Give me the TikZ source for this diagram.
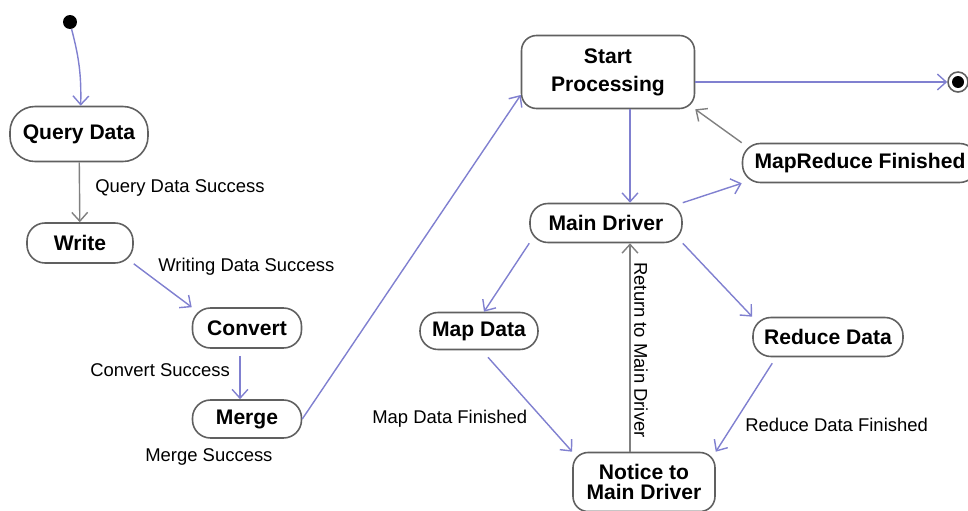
\documentclass[tikz,border=0pt]{standalone}
\usepackage{fontspec}
\setmainfont{Liberation Sans}
\usetikzlibrary{arrows.meta}
\definecolor{flow}{RGB}{128,128,208}
\definecolor{back}{RGB}{128,128,128}
\definecolor{rim}{RGB}{96,96,96}

\begin{document}
\begin{tikzpicture}[
  x=0.02cm, y=-0.02cm,
  state/.style={draw=rim, line width=0.9pt, rounded corners=0.36cm, fill=white,
    align=center, inner sep=0pt, font=\fontsize{12}{16}\selectfont\bfseries},
  lbl/.style={anchor=west, inner sep=0pt, font=\fontsize{10.5}{12}\selectfont},
  >={Straight Barb[length=5pt,width=9pt]},
  flowline/.style={->, draw=flow, line width=0.8pt},
  backline/.style={->, draw=back, line width=0.8pt},
]
  \useasboundingbox (0,0) rectangle (968,511);

  % start and end points
  \node[circle, fill=black, inner sep=0pt, minimum size=0.28cm] (init) at (70,22) {};
  \node[circle, draw=rim, line width=0.9pt, fill=white, inner sep=0pt,
    minimum size=0.4cm] (fin) at (958,82) {};
  \fill[black] (fin.center) circle (0.12cm);

  % left column
  \node[state, minimum width=2.76cm, minimum height=1.1cm, rounded corners=0.5cm] (query) at (79,134) {Query Data};
  \node[state, minimum width=2.12cm, minimum height=0.8cm] (write) at (80,243) {Write};
  \node[state, minimum width=2.18cm, minimum height=0.8cm] (convert) at (247,328) {Convert};
  \node[state, minimum width=2.18cm, minimum height=0.76cm] (merge) at (247,419) {Merge};

  % right part
  \node[state, minimum width=3.46cm, minimum height=1.46cm, rounded corners=0.3cm] (start) at (608,72) {Start\\Processing};
  \node[state, minimum width=3.04cm, minimum height=0.78cm] (main) at (606,223) {Main Driver};
  \node[state, minimum width=4.7cm, minimum height=0.78cm] (mr) at (860,163) {MapReduce Finished};
  \node[state, minimum width=2.36cm, minimum height=0.74cm] (map) at (479,331) {Map Data};
  \node[state, minimum width=3.0cm, minimum height=0.78cm] (reduce) at (828,337) {Reduce Data};
  \node[state, minimum width=2.84cm, minimum height=1.18cm, rounded corners=0.3cm,
    font=\fontsize{12}{11.5}\selectfont\bfseries] (notice) at (644,482) {Notice to\\Main Driver};

  \coordinate (cv) at (240,0);
  \coordinate (ret) at (630,0);

  % transitions
  \draw[flowline] (init) to[bend left=8] (query);
  \draw[backline] (query) -- (write);
  \draw[flowline] (write.south east) -- (convert.north west);
  \draw[flowline] ([yshift=-0.14cm]convert.south -| cv) -- (merge.north -| cv);
  \draw[flowline] (merge.east) -- ([yshift=-0.46cm]start.west);
  \draw[flowline] (start.east |- fin) -- (fin.west);
  \draw[flowline] (start.south -| ret) -- (main.north -| ret);
  \draw[backline] (mr.north west) -- (start.south east);
  \draw[flowline] (main.north east) -- (mr.south west);
  \draw[flowline] (main.south west) -- ([xshift=0.1cm]map.north);
  \draw[flowline] (main.south east) -- (reduce.north west);
  \draw[flowline] ([xshift=0.18cm,yshift=-0.14cm]map.south) -- (notice.north west);
  \draw[flowline] ([xshift=0.4cm,yshift=-0.12cm]reduce.south west) -- (notice.north east);
  \draw[backline] (notice.north -| ret) -- (main.south -| ret);

  % transition labels
  \foreach \x/\y/\t [count=\i] in {95/188/Query Data Success,
      158/267/Writing Data Success, 90/370/Convert Success,
      145/457/Merge Success, 372/419/Map Data Finished,
      745/425/Reduce Data Finished} {
    \node[lbl] (l\i) at (\x,\y) {\t};
  }
  \node[lbl, anchor=center, rotate=-90] (lret) at (641,350) {Return to Main Driver};
\end{tikzpicture}
\end{document}
